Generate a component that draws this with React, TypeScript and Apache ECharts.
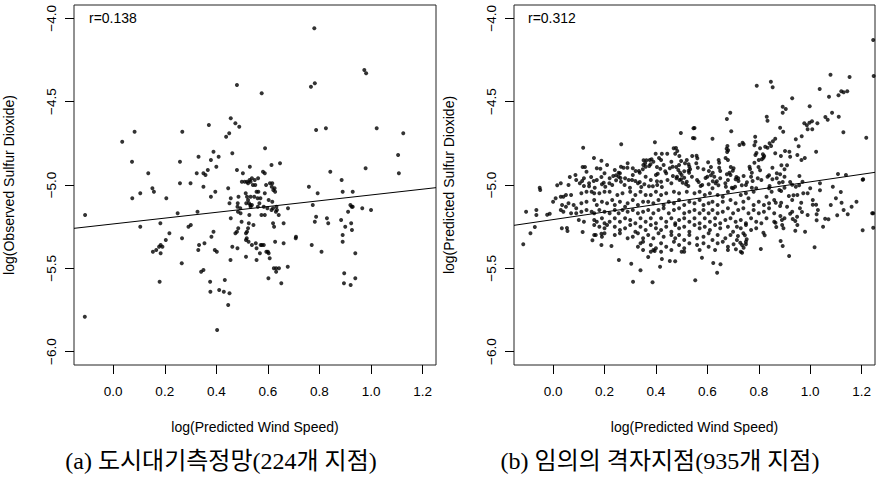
import React, { useEffect, useRef } from "react";
import * as echarts from "echarts";

const xTicks = [0, 0.2, 0.4, 0.6, 0.8, 1.0, 1.2];
const yTicks = [-6, -5.5, -5, -4.5, -4];
const xRange = [-0.152, 1.252];
const yRange = [-6.08, -3.92];

const leftTitleY = "log(Observed Sulfur Dioxide)";
const rightTitleY = "log(Predicted Sulfur Dioxide)";
const titleX = "log(Predicted Wind Speed)";
const leftR = "r=0.138";
const rightR = "r=0.312";
const leftCaption = "(a) 도시대기측정망(224개 지점)";
const rightCaption = "(b) 임의의 격자지점(935개 지점)";

const leftFit = [[-0.152, -5.26], [1.252, -5.016]];
const rightFit = [[-0.152, -5.242], [1.252, -4.924]];

const leftPoints = [
  [-0.109,-5.18],[0.780,-4.06],[0.974,-4.31],[0.981,-4.33],[0.480,-4.40],[0.767,-4.41],[0.782,-4.39],[0.576,-4.45],
  [0.456,-4.60],[0.474,-4.63],[0.489,-4.65],[0.371,-4.64],[0.787,-4.67],[0.825,-4.66],[1.022,-4.66],[1.125,-4.69],
  [0.083,-4.68],[0.268,-4.68],[0.450,-4.69],[0.438,-4.71],[0.035,-4.74],[0.589,-4.78],[0.462,-4.81],[0.389,-4.80],
  [0.331,-4.83],[0.379,-4.85],[0.409,-4.83],[1.105,-4.82],[0.073,-4.86],[0.259,-4.86],[0.400,-4.89],[0.530,-4.89],
  [0.614,-4.88],[0.647,-4.87],[0.979,-4.90],[0.136,-4.93],[0.324,-4.93],[0.350,-4.93],[0.358,-4.94],[0.367,-4.91],
  [0.480,-4.91],[0.503,-4.93],[0.581,-4.92],[0.588,-4.93],[0.842,-4.92],[1.108,-4.93],[0.259,-4.99],[0.300,-4.99],
  [0.350,-5.01],[0.499,-4.98],[0.510,-4.98],[0.519,-4.98],[0.529,-4.97],[0.538,-4.96],[0.549,-4.97],[0.562,-4.96],
  [0.593,-5.00],[0.608,-4.99],[0.617,-4.99],[0.615,-5.01],[0.626,-5.02],[0.621,-5.03],[0.628,-5.04],
  [0.759,-5.01],[0.886,-4.97],[0.890,-5.04],[0.929,-5.04],[0.793,-5.05],[0.152,-5.02],[0.158,-5.04],[0.105,-5.05],
  [0.074,-5.08],[0.206,-5.08],[0.379,-5.07],[0.396,-5.04],[0.446,-5.02],[0.451,-5.11],[0.456,-5.08],[0.486,-5.07],
  [0.482,-5.13],[0.493,-5.14],[0.514,-5.05],[0.519,-5.07],[0.523,-5.09],[0.516,-5.11],[0.527,-5.11],[0.532,-5.12],
  [0.560,-5.08],[0.567,-5.11],[0.571,-5.08],[0.561,-5.13],[0.603,-5.09],[0.617,-5.10],[0.598,-5.14],[0.614,-5.15],
  [0.620,-5.14],[0.584,-5.13],[0.575,-5.18],[0.588,-5.18],[0.631,-5.16],[0.642,-5.18],[0.678,-5.14],[0.774,-5.12],
  [0.920,-5.12],[0.925,-5.13],[0.929,-5.13],[0.966,-5.14],[1.000,-5.15],[0.911,-5.16],[0.327,-5.16],[0.250,-5.17],
  [0.456,-5.20],[0.494,-5.17],[0.498,-5.22],[0.528,-5.18],[0.544,-5.24],[0.620,-5.23],[0.624,-5.25],[0.661,-5.23],
  [0.787,-5.19],[0.782,-5.22],[0.829,-5.20],[0.834,-5.23],[0.884,-5.21],[0.900,-5.25],[0.923,-5.23],[0.926,-5.27],
  [0.105,-5.25],[0.183,-5.23],[0.292,-5.25],[0.301,-5.24],[0.218,-5.29],[0.389,-5.28],[0.474,-5.29],[0.485,-5.26],
  [0.515,-5.29],[0.709,-5.31],[0.154,-5.40],[0.167,-5.39],[0.184,-5.36],[0.178,-5.37],[0.191,-5.37],[0.204,-5.33],
  [0.184,-5.41],[0.180,-5.58],[0.267,-5.32],[0.266,-5.47],[0.330,-5.39],[0.333,-5.36],[0.354,-5.35],[0.381,-5.31],
  [0.394,-5.39],[0.402,-5.40],[0.341,-5.52],[0.350,-5.51],[0.376,-5.58],[0.377,-5.64],[0.411,-5.63],[0.429,-5.64],
  [0.451,-5.65],[0.433,-5.57],[0.446,-5.72],[0.403,-5.87],[0.455,-5.45],[0.462,-5.37],[0.482,-5.38],[0.480,-5.28],
  [0.518,-5.32],[0.515,-5.33],[0.525,-5.34],[0.538,-5.36],[0.515,-5.43],[0.553,-5.35],[0.556,-5.38],[0.572,-5.36],
  [0.577,-5.36],[0.584,-5.36],[0.569,-5.41],[0.556,-5.45],[0.594,-5.40],[0.600,-5.40],[0.603,-5.41],[0.607,-5.44],
  [0.628,-5.34],[0.661,-5.35],[0.623,-5.50],[0.632,-5.50],[0.643,-5.50],[0.632,-5.52],[0.677,-5.49],[0.602,-5.56],
  [0.652,-5.59],[0.708,-5.32],[0.770,-5.36],[0.808,-5.40],[0.890,-5.30],[0.890,-5.34],[0.939,-5.41],[0.896,-5.53],
  [0.895,-5.59],[0.921,-5.60],[0.939,-5.56],[-0.110,-5.79],[0.523,-4.99],[0.533,-4.98],[0.542,-5.00],[0.551,-5.00],
  [0.533,-5.07],[0.547,-5.07],[0.556,-5.04],[0.563,-5.04],[0.588,-5.05],[0.483,-5.11],[0.538,-5.12],[0.533,-5.13],
  [0.633,-5.13],[0.635,-5.15],[0.484,-5.16],[0.526,-5.23],[0.523,-5.26],[0.519,-5.28]
];

const rightPoints = [
  // upper sparse part
  [1.245,-4.13],[1.079,-4.338],[1.153,-4.352],[1.247,-4.346],[0.792,-4.404],[0.847,-4.380],[0.854,-4.414],[1.037,-4.424],
  [1.121,-4.438],[1.130,-4.444],[1.144,-4.438],[1.073,-4.470],[1.110,-4.462],[0.930,-4.480],[0.893,-4.530],[0.905,-4.544],
  [0.893,-4.566],[0.998,-4.528],[0.689,-4.566],[0.676,-4.604],[0.831,-4.590],[0.834,-4.614],[1.085,-4.566],[1.059,-4.592],
  [1.068,-4.608],[1.111,-4.590],[0.977,-4.630],[0.987,-4.642],[1.007,-4.618],[0.997,-4.626],[1.028,-4.630],[0.990,-4.666],
  [1.008,-4.666],[0.883,-4.656],[0.895,-4.680],[0.693,-4.678],[0.550,-4.658],[0.550,-4.720],[1.129,-4.684],[1.218,-4.716],
  [0.620,-4.722],[0.786,-4.710],[0.967,-4.708],[0.944,-4.726],[0.864,-4.722],[0.855,-4.738],[0.842,-4.750],[0.825,-4.770],
  [0.834,-4.776],[0.725,-4.760],[0.737,-4.746],[0.741,-4.756],[0.678,-4.766],[0.675,-4.782],[0.681,-4.792],[0.677,-4.802],
  [0.787,-4.740],[0.783,-4.762],[0.805,-4.780],[0.791,-4.808],[0.787,-4.820],[0.816,-4.816],[0.818,-4.836],[0.812,-4.846],
  [0.821,-4.826],[0.848,-4.766],[0.864,-4.810],[0.886,-4.826],[0.902,-4.796],[0.919,-4.800],[0.922,-4.830],[0.955,-4.768],
  [0.950,-4.820],[0.966,-4.850],[0.979,-4.838],[1.023,-4.800],[0.558,-4.824],[0.561,-4.840],[0.557,-4.870],[0.563,-4.896],
  [0.603,-4.864],[0.585,-4.906],[0.606,-4.916],[0.614,-4.892],[0.644,-4.850],[0.646,-4.866],[0.671,-4.838],[0.680,-4.850],
  [0.691,-4.892],[0.702,-4.900],[0.699,-4.914],[0.686,-4.926],[0.646,-4.896],[0.650,-4.916],[0.621,-4.926],[0.614,-4.942],
  [0.627,-4.950],[0.637,-4.978],[0.764,-4.890],[0.766,-4.904],[0.783,-4.866],[0.800,-4.850],[0.799,-4.892],[0.805,-4.912],
  [0.773,-4.926],[0.853,-4.896],[0.840,-4.942],[0.870,-4.930],[0.888,-4.882],[0.900,-4.906],[0.910,-4.882],[0.883,-4.936],
  [0.958,-4.946],[1.108,-4.934],[1.139,-4.940],[1.204,-4.968],[0.676,-4.936],[0.680,-4.970],[0.713,-4.952],[0.710,-4.966],
  [0.721,-4.976],[0.741,-4.946],[0.593,-4.958],[0.605,-4.996],[0.566,-4.982],[0.574,-5.006],[0.621,-4.978],[0.632,-4.990],
  [0.643,-5.002],[0.754,-4.984],[0.776,-4.976],[0.796,-4.960],[0.834,-4.950],[0.853,-4.966],[0.879,-4.986],[0.893,-4.982],
  [0.922,-4.982],[0.930,-4.998],[0.957,-5.002],[1.038,-4.990],[0.672,-5.010],[0.695,-5.016],[0.708,-5.010],[0.734,-5.002],
  [0.773,-5.016],[0.842,-5.006],[0.900,-5.016],[0.944,-5.010],[1.088,-5.010],
  [0.497,-4.688],[0.546,-4.660],[0.544,-4.718],[0.396,-4.744],[0.265,-4.756],[0.117,-4.776],[0.159,-4.838],[0.188,-4.854],
  [0.184,-4.902],[0.115,-4.892],[0.124,-4.892],[0.264,-4.890],[0.274,-4.896],[0.289,-4.896],[0.255,-4.926],[0.352,-4.852],
  [0.363,-4.852],[0.376,-4.850],[0.383,-4.846],[0.358,-4.870],[0.374,-4.886],[0.379,-4.876],[0.351,-4.880],[0.349,-4.906],
  [0.334,-4.916],[0.321,-4.916],[0.337,-4.926],[0.399,-4.812],[0.412,-4.838],[0.420,-4.850],[0.423,-4.812],[0.444,-4.812],
  [0.469,-4.780],[0.478,-4.778],[0.483,-4.796],[0.475,-4.812],[0.491,-4.826],[0.498,-4.856],[0.513,-4.870],[0.527,-4.876],
  [0.541,-4.826],[0.404,-4.892],[0.417,-4.902],[0.454,-4.900],[0.465,-4.890],[0.479,-4.892],[0.436,-4.918],[0.407,-4.932],
  [0.487,-4.910],[0.494,-4.926],[0.510,-4.918],[0.527,-4.914],[0.533,-4.906],[0.529,-4.926],[0.510,-4.956],[0.498,-4.966],
  [0.482,-4.950],[0.065,-4.952],[0.087,-4.940],[0.113,-4.976],[0.104,-4.990],[0.120,-5.006],[0.140,-5.008],[0.148,-4.952],
  [0.158,-4.976],[0.162,-5.016],[0.188,-4.952],[0.190,-4.996],[0.197,-4.986],[0.203,-5.010],[0.219,-4.990],[0.234,-4.946],
  [0.245,-4.942],[0.255,-4.950],[0.262,-4.958],[0.245,-4.972],[0.264,-4.980],[0.278,-5.000],[0.294,-4.970],[0.307,-4.970],
  [0.299,-5.016],[0.320,-4.976],[0.337,-4.982],[0.343,-5.012],[0.355,-4.996],[0.373,-5.008],[0.388,-5.008],[0.404,-4.978],
  [0.405,-5.000],[0.423,-5.012],[0.445,-4.970],[0.466,-4.946],[0.492,-4.970],[0.504,-4.986],[0.517,-4.996],[0.526,-5.006],
  [-0.052,-5.016],[0.016,-5.002],
  [0.03,-4.99],[0.06,-5.00],[0.09,-4.97],[0.12,-4.96],[0.14,-4.99],[0.17,-4.97],[0.20,-4.93],[0.22,-4.96],[0.23,-5.00],
  [0.26,-4.93],[0.28,-4.96],[0.31,-4.94],[0.33,-4.99],[0.36,-4.95],[0.38,-4.97],[0.40,-4.94],[0.42,-4.98],[0.44,-4.93],
  [0.46,-4.99],[0.48,-4.96],[0.50,-4.94],[0.52,-4.98],[0.54,-4.95],[0.13,-4.92],[0.17,-4.90],[0.21,-4.88],[0.24,-4.91],
  [0.29,-4.87],[0.31,-4.90],[0.36,-4.89],[0.39,-4.86],[0.43,-4.88],[0.46,-4.86],[0.49,-4.88],[0.52,-4.85],[0.53,-4.89],
  [0.56,-4.97],[0.58,-5.00],[0.60,-4.95],[0.62,-5.02],[0.65,-4.96],[0.67,-4.99],[0.69,-4.94],[0.70,-5.02],[0.72,-4.96],
  [0.75,-5.00],[0.77,-4.95],[0.79,-5.02],[0.81,-4.97],[0.84,-5.02],[0.87,-4.96],[0.90,-4.95],[0.97,-4.98],[1.00,-5.02],
  // lower part
  [-0.116,-5.356],[-0.088,-5.290],[-0.071,-5.252],[-0.105,-5.160],[-0.065,-5.150],[-0.065,-5.180],[-0.023,-5.178],[-0.013,-5.172],
  [0.034,-5.260],[0.054,-5.258],[0.056,-5.276],[0.115,-5.282],[0.153,-5.332],[0.166,-5.300],[0.188,-5.292],[0.188,-5.360],
  [0.227,-5.366],[0.256,-5.450],[0.304,-5.472],[0.340,-5.512],[0.311,-5.580],[0.387,-5.584],[0.416,-5.490],[0.370,-5.432],
  [0.395,-5.396],[0.423,-5.444],[0.454,-5.456],[0.475,-5.458],[0.553,-5.572],[0.579,-5.436],[0.623,-5.468],[0.638,-5.526],
  [0.651,-5.476],[0.808,-5.384],[0.918,-5.426],[0.893,-5.366],[0.885,-5.336],[1.017,-5.374],[1.204,-5.272],[1.241,-5.170],
  [1.245,-5.256],[1.058,-5.202],[1.071,-5.206],[1.105,-5.182],[1.146,-5.176],[1.161,-5.130],[1.122,-5.106],[1.119,-5.042],
  [1.038,-5.032],[1.025,-5.176],[1.025,-5.212],[1.010,-5.118],[1.023,-5.118],[0.965,-5.106],[0.968,-5.162],[0.949,-5.190],
  [0.942,-5.216],[0.942,-5.274],[0.932,-5.204],[0.930,-5.160],[0.922,-5.172],[0.973,-5.050],[0.935,-5.062],[0.887,-5.036],
  [0.917,-5.066],[0.865,-5.226],[0.868,-5.252],[0.896,-5.260],[0.891,-5.240],[0.884,-5.186],[0.887,-5.106],[0.883,-5.126],
  [0.866,-5.106],[0.818,-5.286],[0.823,-5.302],[0.753,-5.326],[0.750,-5.356],[0.741,-5.376],[0.735,-5.406],[0.711,-5.386],
  [0.702,-5.356],[0.728,-5.346],[0.719,-5.306],[0.746,-5.302],[1.206,-4.966],[1.245,-5.17],
  [0.93,-5.09],[0.96,-5.14],[0.99,-5.18],[1.01,-5.09],[1.03,-5.15],[1.08,-5.12],[1.10,-5.08],[1.13,-5.15],[1.18,-5.10],
  [0.90,-5.20],[0.95,-5.24],[0.98,-5.28],[1.05,-5.25],
  [-0.05,-5.03],[0.01,-5.08],[0.00,-5.10],[0.03,-5.07],[0.04,-5.07],[0.05,-5.06],[0.07,-5.06],[0.11,-5.05],[0.13,-5.04],
  [0.15,-5.04],[0.16,-5.05],[0.18,-5.05],[0.20,-5.04],[0.22,-5.04],[0.25,-5.06],[0.27,-5.05],[0.30,-5.04],[0.32,-5.06],
  [0.34,-5.04],[0.36,-5.06],[0.38,-5.06],[0.40,-5.04],[0.42,-5.06],[0.44,-5.05],[0.47,-5.04],[0.49,-5.05],[0.52,-5.04],
  [0.55,-5.05],[0.57,-5.04],[0.59,-5.06],[0.61,-5.05],[0.64,-5.06],[0.66,-5.07],[0.68,-5.04],[0.73,-5.06],[0.75,-5.05],
  [0.78,-5.04],[0.83,-5.07],[0.85,-5.04],[0.88,-5.03],[0.95,-5.06],[0.99,-5.05],
  [0.035,-5.12],[0.05,-5.13],[0.06,-5.11],[0.08,-5.12],[0.09,-5.14],[0.11,-5.11],[0.13,-5.10],[0.16,-5.09],[0.17,-5.12],
  [0.19,-5.10],[0.21,-5.11],[0.23,-5.09],[0.24,-5.12],[0.26,-5.10],[0.28,-5.13],[0.29,-5.11],[0.31,-5.09],[0.33,-5.12],
  [0.35,-5.10],[0.37,-5.10],[0.39,-5.11],[0.41,-5.09],[0.43,-5.12],[0.45,-5.10],[0.47,-5.11],[0.49,-5.09],[0.51,-5.12],
  [0.53,-5.10],[0.55,-5.11],[0.57,-5.09],[0.585,-5.12],[0.605,-5.11],[0.62,-5.10],[0.64,-5.12],[0.66,-5.10],[0.69,-5.09],
  [0.71,-5.11],[0.74,-5.10],[0.76,-5.08],[0.78,-5.12],[0.80,-5.10],[0.82,-5.12],[0.84,-5.11],[0.86,-5.09],[0.91,-5.13],
  [0.03,-5.15],[0.04,-5.16],[0.07,-5.17],[0.09,-5.17],[0.11,-5.16],[0.13,-5.15],[0.15,-5.16],[0.16,-5.17],[0.18,-5.15],
  [0.20,-5.16],[0.22,-5.17],[0.24,-5.15],[0.255,-5.17],[0.27,-5.15],[0.29,-5.16],[0.31,-5.15],[0.33,-5.17],[0.35,-5.16],
  [0.37,-5.15],[0.39,-5.17],[0.41,-5.15],[0.43,-5.14],[0.45,-5.17],[0.47,-5.15],[0.49,-5.14],[0.51,-5.17],[0.53,-5.16],
  [0.55,-5.15],[0.57,-5.17],[0.585,-5.15],[0.605,-5.17],[0.62,-5.15],[0.64,-5.17],[0.66,-5.16],[0.68,-5.14],[0.70,-5.17],
  [0.72,-5.15],[0.74,-5.14],[0.76,-5.17],[0.78,-5.15],[0.80,-5.17],[0.82,-5.16],[0.84,-5.14],[0.86,-5.17],
  [0.10,-5.21],[0.12,-5.22],[0.16,-5.21],[0.17,-5.22],[0.19,-5.20],[0.20,-5.23],[0.22,-5.22],[0.24,-5.20],[0.26,-5.22],
  [0.28,-5.20],[0.30,-5.21],[0.32,-5.23],[0.34,-5.20],[0.36,-5.22],[0.38,-5.20],[0.40,-5.23],[0.42,-5.20],[0.44,-5.22],
  [0.46,-5.20],[0.475,-5.23],[0.49,-5.21],[0.51,-5.20],[0.53,-5.22],[0.55,-5.20],[0.57,-5.23],[0.59,-5.20],[0.61,-5.22],
  [0.63,-5.20],[0.65,-5.23],[0.67,-5.21],[0.69,-5.20],[0.71,-5.22],[0.73,-5.21],[0.75,-5.23],[0.77,-5.20],[0.79,-5.22],
  [0.81,-5.23],[0.83,-5.20],[0.86,-5.22],[0.89,-5.21],
  [0.16,-5.24],[0.18,-5.25],[0.20,-5.26],[0.21,-5.24],[0.24,-5.25],[0.26,-5.27],[0.28,-5.26],[0.30,-5.24],[0.32,-5.28],
  [0.34,-5.25],[0.36,-5.27],[0.38,-5.24],[0.40,-5.26],[0.42,-5.27],[0.44,-5.25],[0.46,-5.28],[0.475,-5.24],[0.49,-5.26],
  [0.51,-5.25],[0.53,-5.28],[0.55,-5.24],[0.57,-5.26],[0.59,-5.25],[0.61,-5.27],[0.63,-5.24],[0.65,-5.26],[0.68,-5.25],
  [0.70,-5.28],[0.715,-5.25],[0.73,-5.26],[0.75,-5.24],[0.77,-5.27],[0.79,-5.26],
  [0.16,-5.30],[0.19,-5.31],[0.20,-5.29],[0.24,-5.30],[0.26,-5.29],[0.29,-5.32],[0.31,-5.31],[0.33,-5.29],[0.35,-5.32],
  [0.37,-5.30],[0.39,-5.32],[0.41,-5.29],[0.43,-5.31],[0.46,-5.30],[0.475,-5.32],[0.49,-5.30],[0.51,-5.33],[0.53,-5.30],
  [0.56,-5.32],[0.585,-5.31],[0.605,-5.29],[0.62,-5.33],[0.64,-5.30],[0.67,-5.32],[0.69,-5.30],[0.715,-5.33],[0.74,-5.29],
  [0.34,-5.35],[0.33,-5.37],[0.35,-5.34],[0.38,-5.36],[0.40,-5.38],[0.42,-5.35],[0.44,-5.37],[0.47,-5.34],[0.49,-5.36],
  [0.51,-5.38],[0.53,-5.35],[0.56,-5.36],[0.585,-5.35],[0.605,-5.37],[0.64,-5.35],[0.66,-5.34],[0.68,-5.37],[0.735,-5.36],
  [0.75,-5.34],[0.35,-5.39],[0.38,-5.40],[0.39,-5.39],[0.42,-5.40],[0.46,-5.39],[0.50,-5.40],[0.51,-5.40],[0.57,-5.39],
  [0.63,-5.39],[0.68,-5.39],[0.73,-5.40]
];

const FONT = '"Liberation Sans", Arial, Helvetica, sans-serif';
const SERIF = '"Liberation Serif", "Times New Roman", "Noto Sans CJK KR", serif';

function fmtX(v: number) {
  return v.toFixed(1);
}
function fmtY(v: number) {
  return v.toFixed(1).replace("-", "\u2212");
}

function makeXAxis(gridIndex: number) {
  return {
    type: "value",
    gridIndex,
    min: xRange[0],
    max: xRange[1],
    axisLine: { show: false, onZero: false },
    axisTick: { show: true, length: 9, customValues: xTicks, lineStyle: { color: "#000", width: 1 } },
    axisLabel: { customValues: xTicks, formatter: fmtX, fontSize: 13.5, color: "#000", margin: 19, fontFamily: FONT },
    splitLine: { show: false },
    name: titleX,
    nameLocation: "middle",
    nameGap: 55,
    nameTextStyle: { fontSize: 14, color: "#000", fontFamily: FONT },
  };
}

function makeYAxis(gridIndex: number, name: string) {
  return {
    type: "value",
    gridIndex,
    min: yRange[0],
    max: yRange[1],
    axisLine: { show: false, onZero: false },
    axisTick: { show: true, length: 9, customValues: yTicks, lineStyle: { color: "#000", width: 1 } },
    axisLabel: { customValues: yTicks, formatter: fmtY, fontSize: 13.5, color: "#000", margin: 16, rotate: 90, fontFamily: FONT },
    splitLine: { show: false },
    name,
    nameLocation: "middle",
    nameRotate: 90,
    nameGap: 58,
    nameTextStyle: { fontSize: 14, color: "#000", fontFamily: FONT },
  };
}

export default function App() {
  const ref = useRef<HTMLDivElement>(null);
  useEffect(() => {
    if (!ref.current) return;
    const chart = echarts.init(ref.current, null, { renderer: "svg" });
    chart.setOption({
      animation: false,
      backgroundColor: "#fff",
      grid: [
        { left: 74, top: 5, width: 362, height: 360, show: true, borderColor: "#222", borderWidth: 1, backgroundColor: "transparent" },
        { left: 514, top: 5, width: 361, height: 360, show: true, borderColor: "#222", borderWidth: 1, backgroundColor: "transparent" },
      ],
      xAxis: [makeXAxis(0), makeXAxis(1)],
      yAxis: [makeYAxis(0, leftTitleY), makeYAxis(1, rightTitleY)],
      series: [
        {
          type: "scatter", xAxisIndex: 0, yAxisIndex: 0, data: leftPoints,
          symbolSize: 4, itemStyle: { color: "#000" }, silent: true,
        },
        {
          type: "line", xAxisIndex: 0, yAxisIndex: 0, data: leftFit, symbol: "none",
          lineStyle: { color: "#000", width: 1 }, silent: true,
        },
        {
          type: "scatter", xAxisIndex: 1, yAxisIndex: 1, data: rightPoints,
          symbolSize: 4, itemStyle: { color: "#000" }, silent: true,
        },
        {
          type: "line", xAxisIndex: 1, yAxisIndex: 1, data: rightFit, symbol: "none",
          lineStyle: { color: "#000", width: 1 }, silent: true,
        },
      ],
      graphic: [
        { type: "text", left: 89, top: 11, style: { text: leftR, fontSize: 14, fill: "#000", fontFamily: FONT } },
        { type: "text", left: 528, top: 11, style: { text: rightR, fontSize: 14, fill: "#000", fontFamily: FONT } },
        { type: "text", x: 221, y: 461, style: { text: leftCaption, fontSize: 24, fill: "#000", fontFamily: SERIF, align: "center", verticalAlign: "middle" } },
        { type: "text", x: 660, y: 461, style: { text: rightCaption, fontSize: 24, fill: "#000", fontFamily: SERIF, align: "center", verticalAlign: "middle" } },
      ],
    });
    return () => chart.dispose();
  }, []);
  return <div ref={ref} style={{ position: "fixed", left: 0, top: 0, width: 877, height: 480, background: "#fff" }} />;
}
